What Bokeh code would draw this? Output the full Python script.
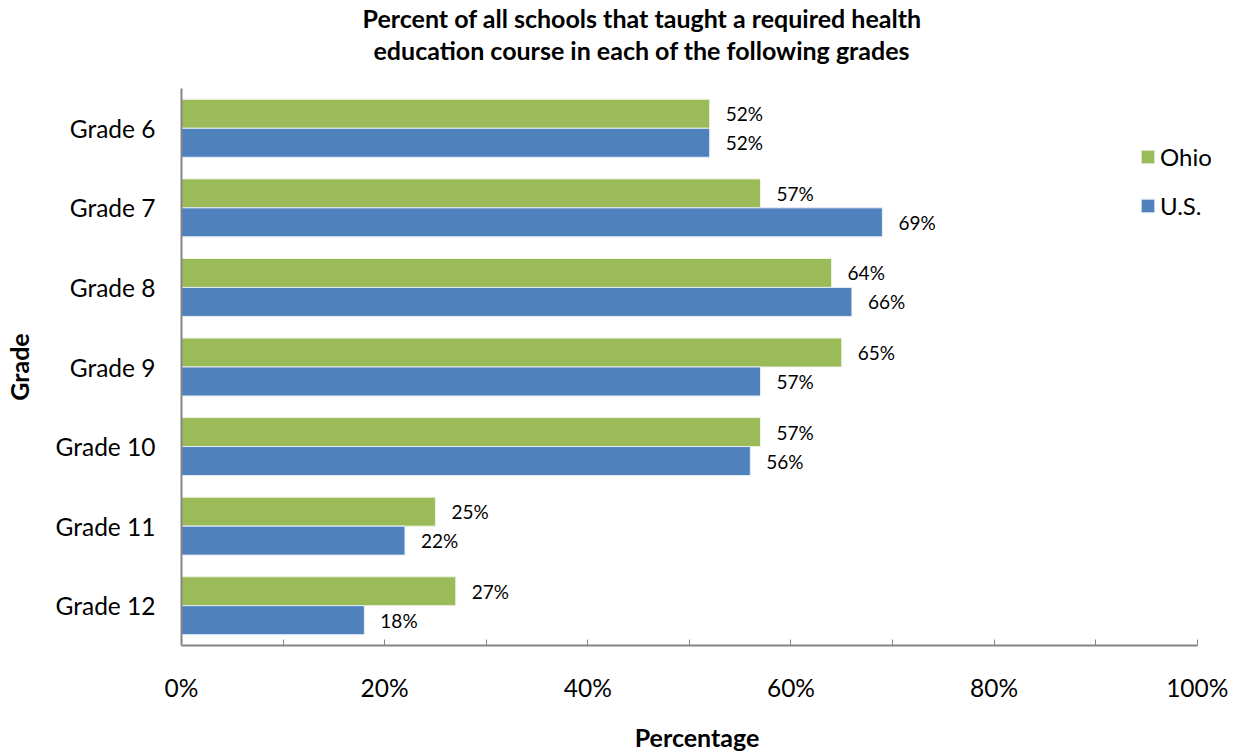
from bokeh.plotting import figure
from bokeh.models import (FactorRange, Range1d, FixedTicker, PrintfTickFormatter,
                          ColumnDataSource, Title, Legend, LegendItem)
from bokeh.transform import dodge
from bokeh.core.properties import value
from bokeh.embed import file_html
from bokeh.resources import INLINE

grades = ["Grade 6", "Grade 7", "Grade 8", "Grade 9", "Grade 10", "Grade 11", "Grade 12"]
ohio = [52, 57, 64, 65, 57, 25, 27]
us = [52, 69, 66, 57, 56, 22, 18]
series_names = ["Ohio", "U.S."]
x_ticks = [0, 20, 40, 60, 80, 100]
x_minor = [10, 30, 50, 70, 90]
title_lines = ["Percent of all schools that taught a required health",
               "education course in each of the following grades"]

FONT = "Lato"
GREEN = "#9BBB59"
BLUE = "#4F81BD"
AXIS = "#868686"

src = ColumnDataSource(dict(
    grade=grades, ohio=ohio, us=us,
    ohio_lbl=[f"{v}%" for v in ohio], us_lbl=[f"{v}%" for v in us],
))

p = figure(width=1238, height=754, output_backend="svg", toolbar_location=None,
           y_range=FactorRange(*reversed(grades)), x_range=Range1d(0, 101.5),
           min_border_left=179, min_border_right=26, min_border_top=88,
           min_border_bottom=109)
p.outline_line_color = None
p.grid.visible = False

r_ohio = p.hbar(y=dodge("grade", 0.182, range=p.y_range), right="ohio", left=0,
                height=0.364, source=src, fill_color=GREEN, line_color="#EEF3E6", line_width=1)
r_us = p.hbar(y=dodge("grade", -0.182, range=p.y_range), right="us", left=0,
              height=0.364, source=src, fill_color=BLUE, line_color="#E6EDF6", line_width=1)

for col, lbl, off in (("ohio", "ohio_lbl", 0.182), ("us", "us_lbl", -0.182)):
    p.text(x=col, y=dodge("grade", off, range=p.y_range), text=lbl, source=src,
           x_offset=16, text_baseline="middle", text_align="left",
           text_font=value(FONT), text_font_size="19px", text_color="#000000")

legend = Legend(items=[LegendItem(label=series_names[0], renderers=[r_ohio]),
                       LegendItem(label=series_names[1], renderers=[r_us])],
                location=(958, 425), border_line_color=None, background_fill_alpha=0,
                padding=0, margin=0, spacing=20, glyph_height=17, glyph_width=17,
                label_height=24, label_standoff=4,
                label_text_font=FONT, label_text_font_size="24px", label_text_color="#000000")
p.add_layout(legend, "center")

p.xaxis.bounds = (0, 100)
p.xaxis.ticker = FixedTicker(ticks=x_ticks, minor_ticks=x_minor)
p.xaxis.formatter = PrintfTickFormatter(format="%d%%")
p.xaxis.major_tick_in = 6
p.xaxis.major_tick_out = 0
p.xaxis.minor_tick_in = 6
p.xaxis.minor_tick_out = 0
p.xaxis.major_label_standoff = 27
p.xaxis.axis_label = "Percentage"
p.xaxis.axis_label_standoff = 17

p.yaxis.major_tick_in = 0
p.yaxis.major_tick_out = 0
p.yaxis.major_label_standoff = 26
p.yaxis.axis_label = "Grade"
p.yaxis.axis_label_standoff = 19

for ax in (p.xaxis, p.yaxis):
    ax.axis_line_color = AXIS
    ax.axis_line_width = 2
    ax.major_tick_line_color = AXIS
    ax.minor_tick_line_color = AXIS
    ax.major_tick_line_width = 1
    ax.minor_tick_line_width = 1
    ax.major_label_text_font = FONT
    ax.major_label_text_font_size = "24.5px"
    ax.major_label_text_color = "#000000"
    ax.axis_label_text_font = FONT
    ax.axis_label_text_font_size = "25px"
    ax.axis_label_text_font_style = "bold"
    ax.axis_label_text_color = "#000000"

for line, off, stand in ((title_lines[1], 192, 47), (title_lines[0], 181, -46)):
    p.add_layout(Title(text=line, align="left", offset=off, text_font=FONT,
                       text_font_size="25px", text_font_style="bold",
                       text_color="#000000", standoff=stand), "above")

open("out.html", "w").write(file_html(p, INLINE))
